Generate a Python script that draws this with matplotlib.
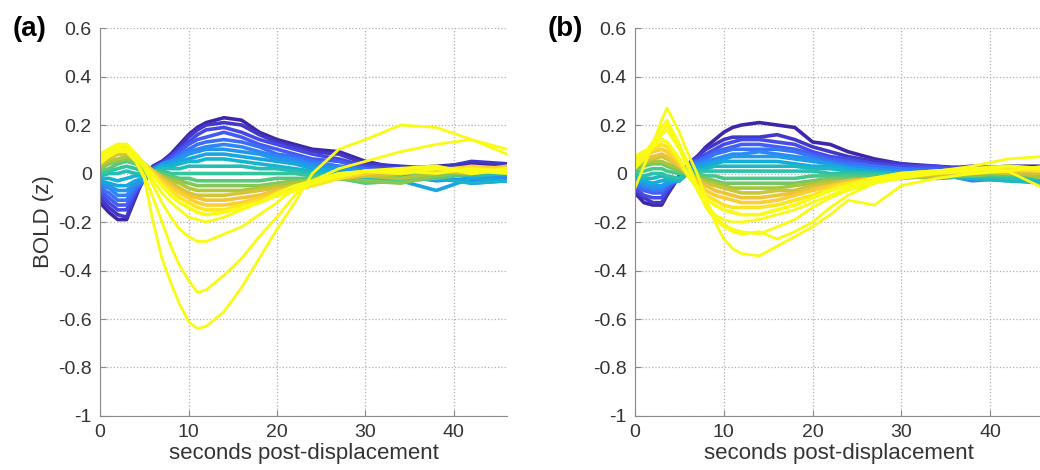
import numpy as np
import matplotlib
matplotlib.use("Agg")
from matplotlib import pyplot as plt
from matplotlib.colors import LinearSegmentedColormap

plt.rcParams['font.family'] = ['Liberation Sans', 'DejaVu Sans']

# 時間軸 (秒)
t_a = [0, 1, 2, 3, 4, 5, 6, 7, 8, 9, 10, 11, 12, 14, 16, 18, 20, 22, 24, 27, 30, 34, 38, 42, 46]
t_b = [0, 1, 2, 3, 3.6, 5, 6, 7, 8, 9, 10, 11, 12, 14, 16, 18, 20, 22, 24, 27, 30, 34, 38, 42, 46]

# (a) 色順 (濃い青 -> 黄色) に並んだ応答曲線
band_a = [
    [-0.12, -0.16, -0.19, -0.19, -0.10, -0.01, 0.03, 0.05, 0.08, 0.12, 0.16, 0.19, 0.21, 0.23, 0.22, 0.17, 0.14, 0.12, 0.10, 0.09, 0.05, 0.02, 0.03, 0.04, 0.03],
    [-0.10, -0.14, -0.17, -0.18, -0.09, -0.02, 0.03, 0.05, 0.07, 0.11, 0.15, 0.18, 0.20, 0.21, 0.20, 0.16, 0.13, 0.11, 0.09, 0.08, 0.04, 0.03, 0.02, 0.05, 0.04],
    [-0.08, -0.12, -0.15, -0.15, -0.08, -0.02, 0.02, 0.04, 0.07, 0.10, 0.13, 0.16, 0.18, 0.19, 0.17, 0.14, 0.12, 0.10, 0.08, 0.06, 0.03, 0.02, 0.01, 0.02, 0.03],
    [-0.07, -0.10, -0.13, -0.13, -0.07, -0.03, 0.02, 0.04, 0.06, 0.09, 0.12, 0.14, 0.15, 0.17, 0.15, 0.12, 0.10, 0.08, 0.06, 0.05, 0.02, 0.01, 0.00, 0.01, 0.02],
    [-0.06, -0.08, -0.11, -0.11, -0.06, -0.03, 0.02, 0.04, 0.05, 0.08, 0.10, 0.12, 0.13, 0.14, 0.13, 0.11, 0.08, 0.07, 0.05, 0.03, 0.02, -0.01, -0.02, -0.03, -0.02],
    [-0.05, -0.06, -0.09, -0.09, -0.05, -0.03, 0.02, 0.04, 0.05, 0.07, 0.09, 0.10, 0.11, 0.12, 0.11, 0.09, 0.07, 0.06, 0.04, 0.03, 0.01, 0.00, -0.01, -0.04, -0.03],
    [-0.04, -0.05, -0.07, -0.07, -0.04, -0.03, 0.01, 0.04, 0.05, 0.06, 0.08, 0.09, 0.10, 0.10, 0.09, 0.08, 0.06, 0.05, 0.03, 0.02, 0.01, -0.01, -0.03, -0.02, -0.01],
    [-0.03, -0.04, -0.05, -0.05, -0.03, -0.02, 0.01, 0.03, 0.04, 0.05, 0.06, 0.07, 0.08, 0.08, 0.07, 0.06, 0.05, 0.04, 0.02, 0.01, -0.01, -0.03, -0.07, -0.02, -0.03],
    [-0.02, -0.02, -0.03, -0.02, -0.01, -0.01, 0.01, 0.03, 0.03, 0.04, 0.05, 0.05, 0.06, 0.06, 0.05, 0.04, 0.03, 0.02, 0.01, 0.00, -0.02, -0.03, -0.02, -0.04, -0.03],
    [-0.01, 0.00, 0.00, 0.01, 0.00, 0.00, 0.01, 0.02, 0.02, 0.02, 0.03, 0.03, 0.03, 0.03, 0.03, 0.02, 0.02, 0.01, 0.00, -0.01, -0.02, -0.01, 0.00, -0.01, 0.00],
    [0.00, 0.01, 0.02, 0.03, 0.02, 0.01, 0.01, 0.01, 0.00, 0.00, 0.00, 0.00, 0.00, 0.00, 0.00, 0.00, 0.00, 0.00, -0.01, -0.02, -0.03, -0.02, -0.01, 0.01, 0.00],
    [0.01, 0.02, 0.04, 0.05, 0.04, 0.02, 0.01, 0.00, -0.01, -0.02, -0.02, -0.03, -0.03, -0.03, -0.03, -0.03, -0.02, -0.02, -0.02, -0.02, -0.04, -0.03, -0.02, 0.00, 0.01],
    [0.02, 0.04, 0.05, 0.06, 0.05, 0.03, 0.01, -0.01, -0.02, -0.03, -0.04, -0.05, -0.05, -0.05, -0.05, -0.05, -0.04, -0.03, -0.03, -0.02, -0.03, -0.04, -0.01, 0.01, 0.02],
    [0.03, 0.05, 0.06, 0.07, 0.06, 0.04, 0.01, -0.01, -0.03, -0.04, -0.06, -0.07, -0.07, -0.07, -0.07, -0.06, -0.05, -0.04, -0.03, -0.02, -0.01, -0.02, 0.00, 0.02, 0.01],
    [0.04, 0.06, 0.08, 0.08, 0.07, 0.04, 0.01, -0.02, -0.04, -0.06, -0.08, -0.09, -0.09, -0.09, -0.08, -0.07, -0.06, -0.05, -0.04, -0.02, -0.01, 0.00, 0.01, 0.00, 0.02],
    [0.05, 0.07, 0.09, 0.09, 0.07, 0.04, 0.01, -0.02, -0.05, -0.07, -0.09, -0.10, -0.11, -0.11, -0.10, -0.09, -0.07, -0.06, -0.04, -0.02, 0.00, 0.01, 0.02, 0.01, 0.03],
    [0.06, 0.08, 0.10, 0.10, 0.08, 0.04, 0.00, -0.03, -0.06, -0.08, -0.10, -0.12, -0.13, -0.13, -0.12, -0.10, -0.08, -0.06, -0.05, -0.02, 0.00, 0.02, 0.01, 0.03, 0.02],
    [0.07, 0.09, 0.11, 0.11, 0.08, 0.04, 0.00, -0.04, -0.07, -0.10, -0.12, -0.14, -0.15, -0.15, -0.13, -0.11, -0.09, -0.07, -0.05, -0.02, 0.01, 0.00, 0.02, 0.02, 0.01],
    [0.08, 0.10, 0.12, 0.12, 0.08, 0.04, -0.01, -0.05, -0.09, -0.12, -0.14, -0.16, -0.17, -0.16, -0.14, -0.12, -0.09, -0.07, -0.04, -0.01, 0.01, 0.02, 0.03, 0.00, 0.02],
]
# (a) 大きく外れた黄色の曲線
outlier_a = [
    [0.06, 0.09, 0.11, 0.12, 0.08, 0.03, -0.03, -0.08, -0.12, -0.15, -0.18, -0.19, -0.20, -0.18, -0.15, -0.12, -0.08, -0.05, -0.03, 0.00, 0.01, 0.00, 0.02, 0.01, 0.00],
    [0.07, 0.10, 0.12, 0.12, 0.08, 0.02, -0.05, -0.12, -0.18, -0.23, -0.26, -0.28, -0.28, -0.25, -0.22, -0.17, -0.12, -0.06, -0.03, 0.00, 0.01, 0.01, 0.00, 0.02, 0.01],
    [0.05, 0.08, 0.10, 0.10, 0.06, -0.01, -0.10, -0.20, -0.30, -0.38, -0.44, -0.49, -0.48, -0.42, -0.35, -0.26, -0.18, -0.09, -0.03, 0.02, 0.05, 0.09, 0.12, 0.14, 0.10],
    [0.04, 0.07, 0.09, 0.09, 0.05, -0.02, -0.20, -0.35, -0.45, -0.54, -0.61, -0.64, -0.63, -0.57, -0.47, -0.35, -0.23, -0.12, 0.00, 0.10, 0.14, 0.20, 0.19, 0.14, 0.08],
]

# (b) 色順 (濃い青 -> 黄色) に並んだ応答曲線
band_b = [
    [-0.08, -0.12, -0.13, -0.13, -0.09, -0.01, 0.04, 0.07, 0.11, 0.14, 0.17, 0.19, 0.20, 0.21, 0.20, 0.19, 0.13, 0.12, 0.09, 0.06, 0.04, 0.03, 0.02, 0.03, 0.03],
    [-0.07, -0.10, -0.12, -0.12, -0.08, -0.01, 0.04, 0.07, 0.10, 0.12, 0.14, 0.15, 0.15, 0.15, 0.16, 0.14, 0.11, 0.09, 0.07, 0.05, 0.04, 0.02, 0.03, 0.02, 0.02],
    [-0.06, -0.09, -0.10, -0.10, -0.07, -0.01, 0.04, 0.06, 0.08, 0.10, 0.12, 0.13, 0.14, 0.14, 0.13, 0.12, 0.09, 0.07, 0.06, 0.04, 0.03, 0.03, 0.01, 0.02, 0.01],
    [-0.05, -0.07, -0.08, -0.08, -0.06, -0.02, 0.03, 0.05, 0.07, 0.09, 0.10, 0.11, 0.12, 0.12, 0.11, 0.10, 0.08, 0.06, 0.05, 0.03, 0.02, 0.02, 0.01, 0.00, 0.01],
    [-0.04, -0.06, -0.07, -0.07, -0.05, -0.02, 0.03, 0.05, 0.06, 0.08, 0.09, 0.10, 0.10, 0.10, 0.10, 0.09, 0.07, 0.05, 0.04, 0.03, 0.02, 0.01, -0.01, -0.02, -0.01],
    [-0.03, -0.05, -0.06, -0.06, -0.04, -0.02, 0.02, 0.04, 0.05, 0.06, 0.07, 0.08, 0.08, 0.09, 0.08, 0.07, 0.06, 0.04, 0.03, 0.02, 0.01, 0.00, -0.03, -0.02, -0.04],
    [-0.03, -0.04, -0.05, -0.05, -0.04, -0.03, 0.02, 0.03, 0.04, 0.05, 0.06, 0.07, 0.07, 0.07, 0.07, 0.06, 0.05, 0.04, 0.02, 0.01, 0.00, -0.01, -0.02, -0.03, -0.02],
    [-0.02, -0.03, -0.04, -0.03, -0.03, -0.03, 0.01, 0.02, 0.03, 0.04, 0.05, 0.05, 0.05, 0.05, 0.05, 0.04, 0.03, 0.03, 0.02, 0.01, 0.00, -0.02, -0.01, -0.02, -0.03],
    [-0.01, -0.02, -0.02, -0.01, -0.02, -0.03, 0.00, 0.01, 0.02, 0.03, 0.03, 0.03, 0.03, 0.03, 0.03, 0.03, 0.02, 0.02, 0.01, 0.00, 0.00, -0.01, -0.02, -0.03, -0.04],
    [0.00, -0.01, 0.00, 0.00, -0.01, -0.02, 0.00, 0.01, 0.01, 0.01, 0.01, 0.01, 0.01, 0.01, 0.01, 0.01, 0.01, 0.00, 0.00, 0.00, -0.01, -0.02, -0.01, -0.02, -0.02],
    [0.01, 0.01, 0.02, 0.02, 0.01, 0.00, 0.00, 0.00, -0.01, -0.01, -0.02, -0.02, -0.02, -0.02, -0.02, -0.02, -0.01, -0.01, -0.01, -0.01, -0.01, -0.01, 0.00, -0.01, 0.00],
    [0.02, 0.03, 0.04, 0.04, 0.03, 0.01, 0.00, -0.01, -0.02, -0.03, -0.04, -0.04, -0.04, -0.04, -0.04, -0.04, -0.03, -0.02, -0.02, -0.02, -0.02, -0.01, -0.01, 0.00, -0.01],
    [0.03, 0.04, 0.05, 0.05, 0.04, 0.02, 0.00, -0.02, -0.03, -0.04, -0.05, -0.06, -0.06, -0.06, -0.06, -0.05, -0.04, -0.03, -0.03, -0.02, -0.01, -0.02, 0.00, 0.01, -0.02],
    [0.04, 0.05, 0.06, 0.07, 0.06, 0.03, 0.00, -0.02, -0.04, -0.05, -0.06, -0.07, -0.08, -0.08, -0.07, -0.07, -0.05, -0.04, -0.03, -0.02, -0.01, -0.01, 0.01, 0.00, 0.00],
    [0.05, 0.06, 0.07, 0.08, 0.07, 0.03, 0.00, -0.03, -0.05, -0.07, -0.08, -0.09, -0.10, -0.10, -0.09, -0.08, -0.06, -0.05, -0.03, -0.02, -0.02, 0.00, 0.00, 0.01, 0.01],
    [0.06, 0.07, 0.09, 0.10, 0.09, 0.04, -0.01, -0.04, -0.07, -0.09, -0.10, -0.11, -0.12, -0.12, -0.11, -0.09, -0.07, -0.05, -0.04, -0.02, -0.01, 0.00, 0.02, 0.01, 0.02],
    [0.06, 0.08, 0.10, 0.12, 0.11, 0.05, -0.01, -0.05, -0.09, -0.11, -0.13, -0.14, -0.14, -0.14, -0.13, -0.11, -0.09, -0.06, -0.04, -0.02, 0.00, 0.01, 0.00, 0.02, 0.01],
    [0.07, 0.09, 0.11, 0.14, 0.13, 0.06, -0.01, -0.06, -0.10, -0.13, -0.15, -0.16, -0.17, -0.17, -0.15, -0.13, -0.10, -0.07, -0.05, -0.02, 0.00, 0.01, 0.02, 0.03, 0.02],
]
# (b) 大きく外れた黄色の曲線
outlier_b = [
    [0.05, 0.08, 0.12, 0.16, 0.18, 0.10, 0.02, -0.07, -0.13, -0.17, -0.19, -0.20, -0.20, -0.19, -0.17, -0.15, -0.12, -0.09, -0.06, -0.03, -0.01, 0.01, 0.02, 0.01, 0.03],
    [0.03, 0.08, 0.13, 0.19, 0.22, 0.12, 0.04, -0.05, -0.13, -0.18, -0.21, -0.23, -0.24, -0.25, -0.22, -0.19, -0.14, -0.10, -0.07, -0.04, -0.02, 0.00, 0.01, 0.03, 0.02],
    [0.02, 0.06, 0.12, 0.17, 0.20, 0.11, 0.03, -0.06, -0.14, -0.19, -0.22, -0.24, -0.25, -0.24, -0.27, -0.24, -0.20, -0.14, -0.09, -0.04, -0.01, 0.01, 0.03, 0.06, 0.07],
    [-0.06, 0.03, 0.12, 0.22, 0.27, 0.17, 0.08, 0.00, -0.10, -0.20, -0.27, -0.31, -0.33, -0.34, -0.30, -0.26, -0.22, -0.17, -0.11, -0.13, -0.05, -0.02, 0.00, 0.01, -0.06],
]

yticks = [0.6, 0.4, 0.2, 0, -0.2, -0.4, -0.6, -0.8, -1]
ytick_labels = ['0.6', '0.4', '0.2', '0', '-0.2', '-0.4', '-0.6', '-0.8', '-1']
xticks = [0, 10, 20, 30, 40]

# MATLAB parula 風カラーマップ
parula = LinearSegmentedColormap.from_list('parula', [
    (0.2422, 0.1504, 0.6603), (0.2810, 0.3228, 0.9579), (0.1786, 0.5289, 0.9682),
    (0.0689, 0.6948, 0.8394), (0.2161, 0.7843, 0.5923), (0.6720, 0.7793, 0.2227),
    (0.9970, 0.7659, 0.2199), (0.9769, 0.9839, 0.0805)])

fig = plt.figure(figsize=(10.4, 4.7), dpi=100)
ax_a = fig.add_axes([0.0962, 0.1149, 0.3913, 0.8255])
ax_b = fig.add_axes([0.6106, 0.1149, 0.3925, 0.8255])

def draw(ax, t, band, outliers, label, lab_x, show_ylabel):
    n = len(band)
    for i, y in enumerate(band):
        ax.plot(t, y, color=parula(i / (n - 1)), lw=2.6, solid_joinstyle='round')
    for y in outliers:
        ax.plot(t, y, color=parula(1.0), lw=2.0)
    ax.set_xlim(0, 46)
    ax.set_ylim(-1, 0.6)
    ax.set_yticks(yticks)
    ax.set_yticklabels(ytick_labels)
    ax.set_xticks(xticks)
    ax.grid(True, linestyle=':', color='#b0b0b0', lw=0.9)
    for s in ['top', 'right']:
        ax.spines[s].set_visible(False)
    for s in ['left', 'bottom']:
        ax.spines[s].set_color('#8a8a8a')
    ax.tick_params(direction='in', length=4, color='#8a8a8a', labelsize=14,
                   labelcolor='#333333', pad=6)
    ax.set_xlabel('seconds post-displacement', fontsize=16, color='#333333', labelpad=1)
    if show_ylabel:
        ax.set_ylabel('BOLD (z)', fontsize=16, color='#333333', labelpad=3)
    fig.text(lab_x, 0.938, label, fontsize=20, fontweight='bold', va='center')

draw(ax_a, t_a, band_a, outlier_a, '(a)', 0.012, True)
draw(ax_b, t_b, band_b, outlier_b, '(b)', 0.527, False)

plt.savefig('out.png', dpi=100)
